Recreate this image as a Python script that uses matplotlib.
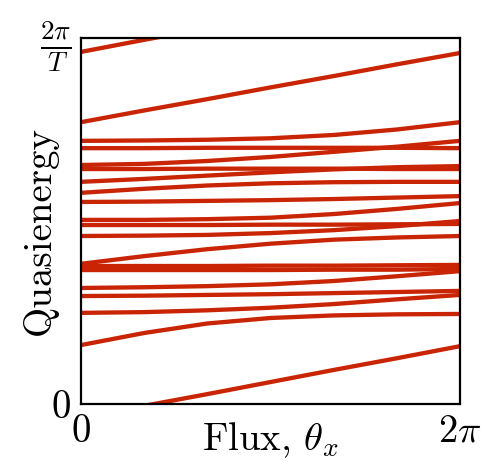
import numpy as np
import matplotlib
matplotlib.use("Agg")
import matplotlib.pyplot as plt

plt.rcParams['font.family'] = 'cmr10'
plt.rcParams['mathtext.fontset'] = 'cm'
plt.rcParams['axes.unicode_minus'] = False

# flux in units of 2pi, quasienergy in units of 2pi/T
flux = [0, 1/6, 2/6, 3/6, 4/6, 5/6, 1]

band_a = [0.962, 0.995, 1.027, 1.060, 1.093, 1.125, 1.158]   # winds through the zone edge
band_b = [0.770, 0.802, 0.833, 0.865, 0.896, 0.928, 0.959]
band_c = [0.719, 0.720, 0.722, 0.726, 0.735, 0.750, 0.770]
band_d = [0.699, 0.699, 0.700, 0.700, 0.700, 0.700, 0.699]
band_e = [0.653, 0.656, 0.664, 0.675, 0.689, 0.703, 0.719]
band_f = [0.642, 0.642, 0.643, 0.643, 0.643, 0.642, 0.642]
band_g1 = [0.607, 0.615, 0.624, 0.633, 0.641, 0.647, 0.650]
band_g2 = [0.577, 0.588, 0.597, 0.603, 0.606, 0.607, 0.607]
band_h = [0.552, 0.553, 0.555, 0.557, 0.560, 0.564, 0.568]
band_i = [0.503, 0.503, 0.505, 0.509, 0.519, 0.533, 0.549]
band_j = [0.489, 0.489, 0.489, 0.490, 0.490, 0.491, 0.492]
band_k = [0.459, 0.460, 0.462, 0.467, 0.475, 0.486, 0.500]
band_l = [0.383, 0.404, 0.423, 0.438, 0.449, 0.455, 0.459]
band_m = [0.377, 0.377, 0.377, 0.378, 0.378, 0.379, 0.380]
band_n = [0.366, 0.366, 0.366, 0.366, 0.367, 0.367, 0.369]
band_o = [0.317, 0.319, 0.322, 0.327, 0.336, 0.349, 0.363]
band_p = [0.295, 0.296, 0.298, 0.300, 0.303, 0.306, 0.309]
band_q = [0.249, 0.251, 0.256, 0.263, 0.273, 0.286, 0.298]
band_r = [0.161, 0.194, 0.220, 0.235, 0.242, 0.245, 0.246]

bands = [band_a, band_b, band_c, band_d, band_e, band_f, band_g1, band_g2,
         band_h, band_i, band_j, band_k, band_l, band_m, band_n, band_o,
         band_p, band_q, band_r]

col = '#c92505'

fig = plt.figure(figsize=(4.87, 4.62), dpi=100)
ax = fig.add_axes([81/487, 58/462, 379/487, 366/462])

x = np.array(flux) * 2 * np.pi
for b in bands:
    e = np.array(b)
    ax.plot(x, e, color=col, lw=3.1, solid_capstyle='butt', solid_joinstyle='round')
    if e.max() > 1:
        ax.plot(x, e - 1, color=col, lw=3.1, solid_capstyle='butt')

ax.set_xlim(0, 2 * np.pi)
ax.set_ylim(0, 1)
ax.set_xticks([0, 2 * np.pi])
ax.set_xticklabels([r'$0$', r'$2\pi$'])
ax.set_yticks([0, 1])
ax.set_yticklabels([r'$0$', r'$\frac{2\pi}{T}$'])
ax.tick_params(length=0, pad=7, labelsize=28)
for s in ax.spines.values():
    s.set_linewidth(1.6)

ax.set_xlabel(r'Flux, $\theta_x$', fontsize=28)
ax.xaxis.set_label_coords(0.5, -0.045)
ax.set_ylabel('Quasienergy', fontsize=28)
ax.yaxis.set_label_coords(-0.06, 0.475)

fig.savefig('out.png', dpi=100)
